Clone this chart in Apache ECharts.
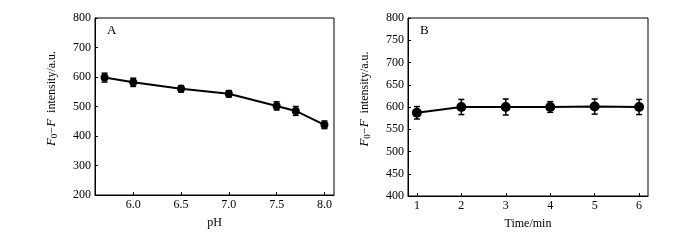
<!DOCTYPE html>
<html>
<head>
<meta charset="utf-8">
<script src="https://cdn.jsdelivr.net/npm/echarts@6/dist/echarts.min.js"></script>
<style>
html,body{margin:0;padding:0;background:#fff;}
#main{width:700px;height:240px;}
</style>
</head>
<body>
<div id="main"></div>
<script>
// panel A: pH
var phVals = [5.7, 6.0, 6.5, 7.0, 7.5, 7.7, 8.0];
var phMean = [598, 582, 560, 543, 502, 485, 438];
var phErr = [15, 14, 11, 11, 14, 15, 13];
var phTicks = [6.0, 6.5, 7.0, 7.5, 8.0];
// panel B: time
var timeVals = [1, 2, 3, 4, 5, 6];
var timeMean = [587, 600, 600, 600, 601, 600];
var timeErr = [14, 17, 18, 12, 17, 17];
var timeTicks = [1, 2, 3, 4, 5, 6];

var font = 'Liberation Serif';

function pairs(xs, ys){
	var arr = [];
	for (var i = 0; i < xs.length; i++) {
		arr.push([xs[i], ys[i]]);
	}
	return arr;
}
function errData(xs, ys, es){
	var arr = [];
	for (var i = 0; i < xs.length; i++) {
		arr.push([xs[i], ys[i] - es[i], ys[i] + es[i]]);
	}
	return arr;
}
function renderErr(params, api){
	var x = api.value(0);
	var lo = api.coord([x, api.value(1)]);
	var hi = api.coord([x, api.value(2)]);
	var w = 3;
	var st = {stroke: '#000', lineWidth: 1.5};
	return {
		type: 'group',
		children: [
			{type: 'line', shape: {x1: lo[0], y1: lo[1], x2: hi[0], y2: hi[1]}, style: st},
			{type: 'line', shape: {x1: lo[0]-w, y1: lo[1], x2: lo[0]+w, y2: lo[1]}, style: st},
			{type: 'line', shape: {x1: hi[0]-w, y1: hi[1], x2: hi[0]+w, y2: hi[1]}, style: st}
		]
	};
}

var yName = '{i|F}{s|0}{n|−}{i|F}{n|  intensity/a.u.}';
var yRich = {
	i: {fontFamily: font, fontStyle: 'italic', fontSize: 13, color: '#000'},
	s: {fontFamily: font, fontSize: 9, color: '#000', padding: [5, 0, 0, 0]},
	n: {fontFamily: font, fontSize: 12, color: '#000'}
};
var lbl = {color: '#000', fontFamily: font, fontSize: 12, margin: 4};
var axLine = {lineStyle: {color: '#000', width: 1}};

var chart = echarts.init(document.getElementById('main'));
var option = {
	animation: false,
	backgroundColor: '#fff',
	title: [
		{text: 'A', left: 102, top: 19, textStyle: {fontFamily: font, fontWeight: 'normal', fontSize: 13, color: '#000'}},
		{text: 'B', left: 415, top: 19, textStyle: {fontFamily: font, fontWeight: 'normal', fontSize: 13, color: '#000'}}
	],
	grid: [
		{left: 95, top: 18, width: 239, height: 177, show: true, borderColor: '#000', borderWidth: 1},
		{left: 408, top: 18, width: 240, height: 178, show: true, borderColor: '#000', borderWidth: 1}
	],
	xAxis: [
		{
			type: 'value', gridIndex: 0, min: 5.6, max: 8.1,
			name: 'pH', nameLocation: 'middle', nameGap: 22,
			nameTextStyle: {fontFamily: font, fontSize: 12, color: '#000'},
			axisLine: axLine, splitLine: {show: false},
			axisTick: {inside: true, length: 3, customValues: phTicks, lineStyle: {color: '#000'}},
			axisLabel: Object.assign({customValues: phTicks, formatter: function(v){ return v.toFixed(1); }}, lbl)
		},
		{
			type: 'value', gridIndex: 1, min: 0.8, max: 6.2,
			name: 'Time/min', nameLocation: 'middle', nameGap: 22,
			nameTextStyle: {fontFamily: font, fontSize: 12, color: '#000'},
			axisLine: axLine, splitLine: {show: false},
			axisTick: {inside: true, length: 3, customValues: timeTicks, lineStyle: {color: '#000'}},
			axisLabel: Object.assign({customValues: timeTicks}, lbl)
		}
	],
	yAxis: [
		{
			type: 'value', gridIndex: 0, min: 200, max: 800, interval: 100,
			name: yName, nameLocation: 'middle', nameGap: 36, nameRotate: 90,
			nameTextStyle: {rich: yRich, padding: [0, 0, 0, 16]},
			axisLine: axLine, splitLine: {show: false},
			axisTick: {inside: true, length: 3, lineStyle: {color: '#000'}},
			axisLabel: lbl
		},
		{
			type: 'value', gridIndex: 1, min: 400, max: 800, interval: 50,
			name: yName, nameLocation: 'middle', nameGap: 36, nameRotate: 90,
			nameTextStyle: {rich: yRich, padding: [0, 0, 0, 16]},
			axisLine: axLine, splitLine: {show: false},
			axisTick: {inside: true, length: 3, lineStyle: {color: '#000'}},
			axisLabel: lbl
		}
	],
	series: [
		{
			type: 'line', xAxisIndex: 0, yAxisIndex: 0,
			data: pairs(phVals, phMean),
			symbol: 'circle', symbolSize: 8,
			itemStyle: {color: '#000'},
			lineStyle: {color: '#000', width: 2}
		},
		{
			type: 'custom', xAxisIndex: 0, yAxisIndex: 0,
			data: errData(phVals, phMean, phErr),
			renderItem: renderErr, z: 3
		},
		{
			type: 'line', xAxisIndex: 1, yAxisIndex: 1,
			data: pairs(timeVals, timeMean),
			symbol: 'circle', symbolSize: 10,
			itemStyle: {color: '#000'},
			lineStyle: {color: '#000', width: 2}
		},
		{
			type: 'custom', xAxisIndex: 1, yAxisIndex: 1,
			data: errData(timeVals, timeMean, timeErr),
			renderItem: renderErr, z: 3
		}
	]
};
chart.setOption(option);
</script>
</body>
</html>
